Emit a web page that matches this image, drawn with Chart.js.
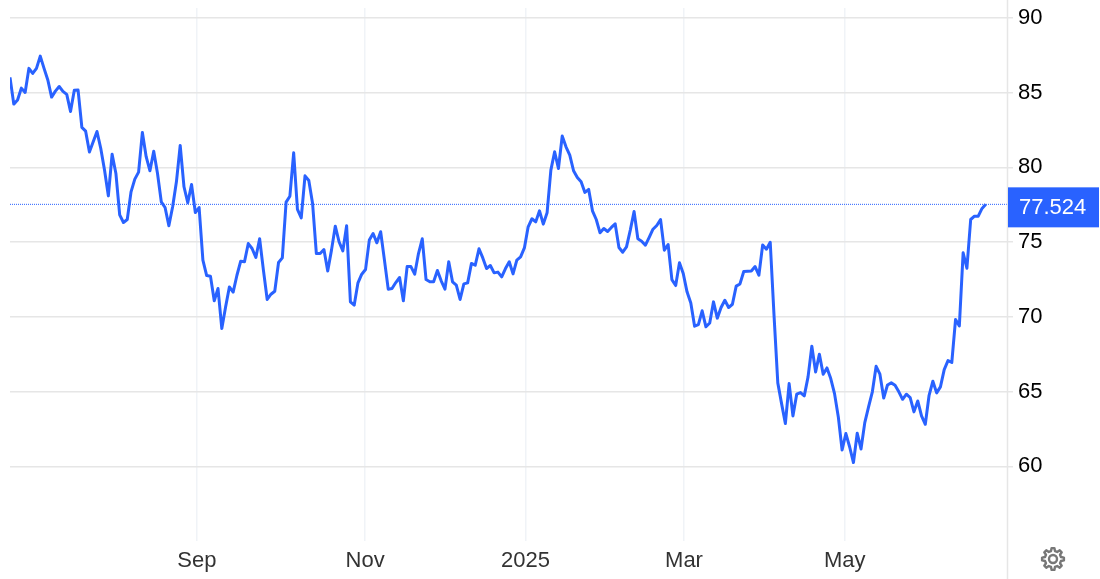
<!DOCTYPE html>
<html>
<head>
<meta charset="utf-8">
<title>Chart</title>
<script src="https://cdn.jsdelivr.net/npm/chart.js@4"></script>
<style>
    html, body { margin: 0; padding: 0; background: #fff; overflow: hidden; }
    canvas { display: block; }
</style>
</head>
<body>
<canvas id="priceChart" width="1100" height="579"></canvas>
<script>
const prices = [
    86.02, 84.23, 84.50, 85.30, 85.01, 86.62, 86.28, 86.62, 87.44, 86.62,
    85.84, 84.70, 85.10, 85.41, 85.08, 84.88, 83.74, 85.15, 85.17, 82.67,
    82.42, 81.02, 81.71, 82.40, 81.26, 79.81, 78.09, 80.88, 79.59, 76.82,
    76.31, 76.51, 78.36, 79.21, 79.68, 82.33, 80.71, 79.77, 81.08, 79.59,
    77.69, 77.31, 76.09, 77.36, 79.03, 81.46, 78.70, 77.63, 78.85, 76.98,
    77.31, 73.79, 72.76, 72.72, 71.07, 71.89, 69.21, 70.66, 72.00, 71.65,
    72.78, 73.72, 73.68, 74.90, 74.57, 73.97, 75.22, 73.12, 71.16, 71.51,
    71.71, 73.63, 73.94, 77.67, 78.07, 80.97, 77.18, 76.62, 79.43, 79.12,
    77.58, 74.23, 74.23, 74.50, 73.07, 74.46, 76.06, 75.02, 74.41, 76.09,
    71.00, 70.78, 72.27, 72.85, 73.16, 75.13, 75.57, 74.95, 75.69, 73.79,
    71.85, 71.89, 72.29, 72.63, 71.07, 73.36, 73.36, 72.85, 74.23, 75.22,
    72.49, 72.34, 72.34, 73.10, 72.41, 71.85, 73.68, 72.34, 72.12, 71.16,
    72.20, 72.27, 73.57, 73.45, 74.55, 73.94, 73.23, 73.43, 72.94, 72.99,
    72.67, 73.23, 73.68, 72.87, 73.79, 74.01, 74.61, 76.02, 76.56, 76.35,
    77.09, 76.20, 76.96, 79.81, 81.04, 79.92, 82.09, 81.37, 80.82, 79.77,
    79.32, 79.03, 78.32, 78.52, 77.09, 76.51, 75.62, 75.91, 75.71, 75.98,
    76.22, 74.64, 74.32, 74.68, 75.80, 77.05, 75.22, 75.06, 74.79, 75.31,
    75.86, 76.11, 76.51, 74.46, 74.84, 72.49, 72.09, 73.61, 72.90, 71.67,
    70.93, 69.37, 69.48, 70.40, 69.33, 69.59, 71.00, 69.91, 70.62, 71.11,
    70.62, 70.84, 72.05, 72.20, 73.03, 73.05, 73.07, 73.36, 72.78, 74.81,
    74.52, 74.99, 70.11, 65.58, 64.19, 62.86, 65.53, 63.37, 64.82, 64.93,
    64.71, 65.98, 68.03, 66.31, 67.50, 66.16, 66.58, 65.87, 64.86, 63.30,
    61.09, 62.19, 61.29, 60.25, 62.21, 61.16, 62.92, 63.97, 64.98, 66.69,
    66.16, 64.57, 65.44, 65.58, 65.42, 64.98, 64.48, 64.82, 64.60, 63.64,
    64.37, 63.37, 62.81, 64.75, 65.69, 64.91, 65.31, 66.47, 67.07, 66.94,
    69.82, 69.39, 74.28, 73.25, 76.51, 76.73, 76.73, 77.25, 77.524
];
const monthLabels = ['Sep', 'Nov', '2025', 'Mar', 'May'];
const monthIndexes = [49.4, 93.9, 136.3, 178.2, 220.7];
const lastPriceLabel = '77.524';
const lineColor = '#2962ff';
const fontName = '"Liberation Sans", Arial, sans-serif';

const lastPrice = prices[prices.length - 1];
const xEnd = 263.6;

// right hand border, price tag and settings gear
const extras = {
    id: 'extras',
    afterDraw(chart) {
        const ctx = chart.ctx;
        const area = chart.chartArea;
        const y = chart.scales.y.getPixelForValue(lastPrice);

        ctx.save();
        ctx.strokeStyle = '#e6e6e6';
        ctx.lineWidth = 1.5;
        ctx.beginPath();
        ctx.moveTo(area.right + 0.5, 0);
        ctx.lineTo(area.right + 0.5, chart.height);
        ctx.stroke();

        ctx.fillStyle = lineColor;
        ctx.fillRect(area.right + 1, y - 17, 91, 40);
        ctx.fillStyle = '#fff';
        ctx.font = '22px ' + fontName;
        ctx.textBaseline = 'middle';
        ctx.fillText(lastPriceLabel, 1019, y + 4);

        drawGear(ctx, 1053, 559);
        ctx.restore();
    }
};

function drawGear(ctx, cx, cy) {
    const teeth = 8;
    ctx.strokeStyle = '#777';
    ctx.lineWidth = 2.4;
    ctx.lineJoin = 'round';
    ctx.beginPath();
    for (let i = 0; i < teeth; i++) {
        const a = i / teeth * Math.PI * 2;
        const w = Math.PI / teeth;
        const corners = [[8.2, a - w * 0.62], [11, a - w * 0.32], [11, a + w * 0.32], [8.2, a + w * 0.62]];
        corners.forEach((c, j) => {
            const px = cx + Math.cos(c[1]) * c[0];
            const py = cy + Math.sin(c[1]) * c[0];
            if (i === 0 && j === 0) ctx.moveTo(px, py);
            else ctx.lineTo(px, py);
        });
    }
    ctx.closePath();
    ctx.stroke();
    ctx.beginPath();
    ctx.arc(cx, cy, 4, 0, Math.PI * 2);
    ctx.stroke();
}

new Chart(document.getElementById('priceChart').getContext('2d'), {
    type: 'line',
    data: {
        datasets: [
            {
                data: prices.map((p, i) => ({ x: i, y: p })),
                borderColor: lineColor,
                borderWidth: 3,
                borderJoinStyle: 'round',
                pointRadius: 0,
                tension: 0,
                fill: false
            },
            {
                data: [{ x: 0, y: lastPrice }, { x: xEnd, y: lastPrice }],
                borderColor: lineColor,
                borderWidth: 1,
                borderDash: [1, 1],
                pointRadius: 0,
                fill: false
            }
        ]
    },
    options: {
        responsive: false,
        animation: false,
        layout: { padding: { left: 10, top: 8, right: 0, bottom: 0 } },
        plugins: { legend: { display: false }, tooltip: { enabled: false } },
        scales: {
            x: {
                type: 'linear',
                min: 0,
                max: xEnd,
                afterBuildTicks: (scale) => {
                    scale.ticks = monthIndexes.map(v => ({ value: v }));
                },
                afterFit: (scale) => { scale.height = 38; },
                grid: { color: '#f0f3f7', lineWidth: 1.5, drawTicks: false },
                border: { display: false },
                ticks: {
                    autoSkip: false,
                    maxRotation: 0,
                    padding: 7,
                    color: '#333',
                    font: { family: fontName, size: 22 },
                    callback: (value) => monthLabels[monthIndexes.indexOf(value)]
                }
            },
            y: {
                position: 'right',
                min: 55,
                max: 90.66,
                afterFit: (scale) => {
                    scale.width = 93;
                    scale.paddingTop = 0;
                    scale.paddingBottom = 0;
                },
                grid: { color: '#e6e6e6', lineWidth: 1.5, tickLength: 6 },
                border: { display: false },
                ticks: {
                    stepSize: 5,
                    includeBounds: false,
                    padding: 5,
                    color: '#000',
                    font: { family: fontName, size: 22 },
                    callback: (value) => (value === 55 ? null : value)
                }
            }
        }
    },
    plugins: [extras]
});
</script>
</body>
</html>
